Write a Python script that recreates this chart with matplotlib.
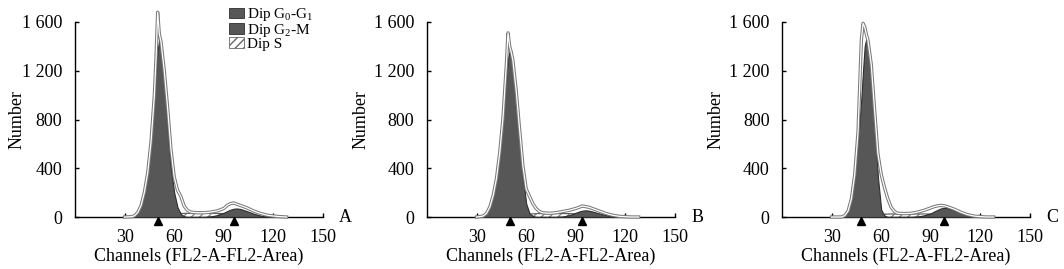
import matplotlib
matplotlib.use("Agg")
from matplotlib import pyplot as plt
from matplotlib.patches import Patch

plt.rcParams['font.family'] = ['Liberation Serif', 'DejaVu Serif']
plt.rcParams['mathtext.fontset'] = 'custom'
plt.rcParams['mathtext.rm'] = 'Liberation Serif'
plt.rcParams['mathtext.it'] = 'Liberation Serif'

# channel grid (x values)
chan = [30, 34, 36, 38, 40, 42, 44, 46, 48, 49, 50, 51, 52, 54, 56, 58, 60, 62, 64,
        66, 68, 70, 74, 78, 82, 86, 90, 92, 94, 96, 98, 100, 104, 108, 112, 116, 120, 124, 128]

# panel A
a_g1 = [0, 0, 8, 35, 90, 200, 360, 610, 960, 1180, 1370, 1460, 1420, 1180, 720, 400, 200, 80, 25,
        5, 0, 0, 0, 0, 0, 0, 0, 0, 0, 0, 0, 0, 0, 0, 0, 0, 0, 0, 0]
a_total = [0, 2, 10, 38, 95, 205, 365, 620, 1000, 1300, 1680, 1500, 1440, 1200, 900, 560, 330, 220, 170,
           90, 55, 40, 35, 35, 40, 50, 70, 95, 110, 115, 105, 95, 75, 50, 30, 15, 8, 3, 0]
a_s = [0, 0, 0, 0, 0, 0, 5, 10, 14, 15, 16, 17, 18, 20, 23, 25, 27, 28, 29,
       30, 30, 30, 30, 30, 30, 30, 28, 26, 24, 20, 16, 12, 6, 2, 0, 0, 0, 0, 0]
a_g2 = [0, 0, 0, 0, 0, 0, 0, 0, 0, 0, 0, 0, 0, 0, 0, 0, 0, 0, 0,
        0, 0, 0, 0, 0, 5, 15, 35, 48, 60, 68, 70, 66, 48, 28, 12, 4, 0, 0, 0]

# panel B
b_g1 = [0, 8, 30, 80, 170, 310, 520, 800, 1150, 1300, 1364, 1340, 1260, 1000, 660, 330, 110, 30, 8,
        0, 0, 0, 0, 0, 0, 0, 0, 0, 0, 0, 0, 0, 0, 0, 0, 0, 0, 0, 0]
b_total = [0, 8, 30, 82, 175, 315, 530, 820, 1250, 1511, 1400, 1350, 1280, 1030, 720, 420, 230, 170, 110,
           70, 45, 35, 30, 35, 45, 55, 70, 80, 90, 85, 80, 70, 50, 30, 15, 6, 2, 0, 0]
b_s = [0, 0, 0, 0, 0, 0, 3, 7, 10, 12, 13, 14, 15, 17, 19, 21, 23, 25, 26,
       27, 28, 28, 28, 28, 28, 28, 26, 24, 22, 18, 14, 10, 5, 2, 0, 0, 0, 0, 0]
b_g2 = [0, 0, 0, 0, 0, 0, 0, 0, 0, 0, 0, 0, 0, 0, 0, 0, 0, 0, 0,
        0, 0, 0, 0, 0, 4, 15, 35, 45, 52, 55, 52, 45, 30, 16, 6, 2, 0, 0, 0]

# panel C
c_g1 = [0, 0, 0, 10, 45, 140, 330, 620, 980, 1200, 1400, 1465, 1440, 1200, 780, 330, 60, 10, 0,
        0, 0, 0, 0, 0, 0, 0, 0, 0, 0, 0, 0, 0, 0, 0, 0, 0, 0, 0, 0]
c_total = [0, 0, 0, 12, 50, 150, 350, 700, 1450, 1589, 1560, 1500, 1450, 1250, 880, 520, 350, 240, 150,
           80, 45, 30, 28, 30, 40, 55, 75, 85, 92, 95, 92, 85, 65, 40, 20, 8, 3, 0, 0]
c_s = [0, 0, 0, 0, 0, 0, 3, 6, 9, 11, 12, 13, 14, 16, 18, 20, 22, 23, 24,
       25, 25, 25, 25, 25, 25, 25, 24, 22, 20, 16, 12, 9, 4, 1, 0, 0, 0, 0, 0]
c_g2 = [0, 0, 0, 0, 0, 0, 0, 0, 0, 0, 0, 0, 0, 0, 0, 0, 0, 0, 0,
        0, 0, 0, 0, 0, 4, 14, 30, 45, 58, 70, 75, 72, 55, 32, 12, 3, 0, 0, 0]

# peak channels marked with triangles
a_peaks = [50, 96]
b_peaks = [50, 94]
c_peaks = [48, 98]

panel_letters = ['A', 'B', 'C']
x_ticks = [30, 60, 90, 120, 150]
y_ticks = [0, 400, 800, 1200, 1600]
y_tick_labels = ['0', '400', '800', '1 200', '1 600']
legend_labels = [r'Dip G$_0$-G$_1$', r'Dip G$_2$-M', 'Dip S']

fill_col = '#575757'
edge_col = '#2e2e2e'

fig = plt.figure(figsize=(10.64, 2.69), dpi=100)
lefts = [75 / 1064, 427 / 1064, 782 / 1064]
ylabel_x = [-0.2, -0.23, -0.23]
panels = [(a_g1, a_total, a_s, a_g2, a_peaks),
          (b_g1, b_total, b_s, b_g2, b_peaks),
          (c_g1, c_total, c_s, c_g2, c_peaks)]

for i, (g1, total, s, g2, peaks) in enumerate(panels):
    ax = fig.add_axes([lefts[i], 52 / 269, 248 / 1064, 195 / 269])

    # S phase (hatched)
    ax.fill_between(chan, s, color='white', edgecolor='#8a8a8a', hatch='////', linewidth=0, zorder=1)
    ax.plot(chan, s, color='#555555', lw=0.8, zorder=2)
    # G2-M
    ax.fill_between(chan, g2, color=fill_col, edgecolor=edge_col, linewidth=0.8, zorder=3)
    # G0-G1
    ax.fill_between(chan, g1, color=fill_col, edgecolor=edge_col, linewidth=0.8, zorder=4)
    # total histogram outline (double line look)
    ax.plot(chan, total, color='#7a7a7a', lw=2.4, zorder=5, clip_on=False)
    ax.plot(chan, total, color='white', lw=0.9, zorder=6, clip_on=False)

    ax.plot(peaks, [-33, -33], '^', color='black', ms=6, clip_on=False, zorder=7)

    ax.set_xlim(0, 150)
    ax.set_ylim(0, 1600)
    ax.spines['top'].set_visible(False)
    ax.spines['right'].set_visible(False)
    ax.spines['left'].set_linewidth(1.0)
    ax.spines['bottom'].set_linewidth(1.0)
    ax.set_xticks(x_ticks)
    ax.set_yticks(y_ticks)
    ax.set_yticklabels(y_tick_labels)
    ax.tick_params(axis='both', direction='in', length=3, width=1.0, labelsize=13)
    ax.tick_params(axis='x', pad=9)
    ax.tick_params(axis='y', pad=9)
    ax.set_ylabel('Number', fontsize=13)
    ax.set_xlabel('Channels (FL2-A-FL2-Area)', fontsize=13)
    ax.yaxis.set_label_coords(ylabel_x[i], 0.5)
    ax.xaxis.set_label_coords(0.5, -0.155)
    ax.text(1.09, 0, panel_letters[i], transform=ax.transAxes, ha='center', va='center', fontsize=13)

    if i == 0:
        handles = [Patch(facecolor=fill_col, edgecolor=edge_col, lw=0.6),
                   Patch(facecolor=fill_col, edgecolor=edge_col, lw=0.6),
                   Patch(facecolor='white', edgecolor='#666666', hatch='////', lw=0.6)]
        ax.legend(handles, legend_labels, loc='upper left', bbox_to_anchor=(0.62, 1.08),
                  frameon=False, fontsize=11, handlelength=1.0, handleheight=0.7,
                  handletextpad=0.2, labelspacing=-0.1, borderpad=0, borderaxespad=0)

fig.savefig('out.png', dpi=100)
